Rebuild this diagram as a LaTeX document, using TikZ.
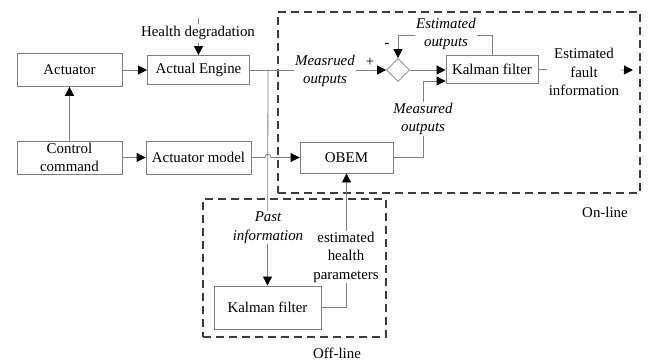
\documentclass[tikz,border=0pt]{standalone}
\usepackage{fontspec}
\setmainfont{Liberation Serif}
\usetikzlibrary{arrows.meta,shapes.geometric}
\definecolor{linegray}{RGB}{128,128,128}
\definecolor{zonegray}{RGB}{60,60,60}
\begin{document}
\begin{tikzpicture}[x=1pt,y=-1pt,
  font=\fontsize{14.9}{18.5}\selectfont,
  box/.style={draw=linegray,line width=0.8pt,inner sep=0pt,align=center},
  wire/.style={draw=linegray,line width=0.8pt},
  arr/.style={wire,-{Triangle[length=9pt,width=9pt,color=black]}},
  lbl/.style={fill=white,inner sep=1pt,align=center},
  zone/.style={draw=zonegray,line width=1.2pt,dash pattern=on 8pt off 5pt,inner sep=0pt}]
\useasboundingbox (0,0) rectangle (657,361);

% on-line and off-line zones
\node[zone,minimum width=362pt,minimum height=181pt] (online) at (459,102.5) {};
\node[zone,minimum width=183pt,minimum height=138pt] (offline) at (294.5,268) {};
\node (onlbl) at (605,212) {On-line};
\node (offlbl) at (337,353) {Off-line};

% blocks
\node[box,minimum width=105pt,minimum height=33pt] (act) at (69.5,70) {Actuator};
\node[box,minimum width=102pt,minimum height=29pt] (eng) at (198.5,70) {Actual Engine};
\node[box,minimum width=105pt,minimum height=33pt] (cc) at (69.5,157.5) {Control\\command};
\node[box,minimum width=105pt,minimum height=33pt] (am) at (198.5,157.5) {Actuator model};
\node[box,minimum width=93pt,minimum height=31pt] (obem) at (346.5,157.5) {OBEM};
\node[box,minimum width=92pt,minimum height=28pt] (kf1) at (492,69.5) {Kalman filter};
\node[box,minimum width=107pt,minimum height=43pt] (kf2) at (267.5,307.5) {Kalman filter};
\node[draw=linegray,line width=0.8pt,diamond,aspect=1,inner sep=0pt,minimum size=23pt] (dia) at (398,70) {};

% health degradation input
\node (hd) at (198,33) {Health degradation};
\coordinate (hdtop) at (198,18);
\draw[wire] (hdtop) -- ++(0,6);
\draw[arr] (hd.south -| eng.north) -- (eng.north);

% connectors
\coordinate (j) at (268,70);
\coordinate (faultend) at (633,70);
\draw[arr] (act.east) -- (eng.west);
\draw[arr] (cc.north) -- (act.south);
\draw[arr] (cc.east) -- (am.west);
\draw[arr] (am.east) -- (265,157.5) .. controls (265,153) and (271,153) .. (271,157.5) -- (obem.west);
\draw[arr] (eng.east) -- (dia.west);
\draw[arr] (j) -- (kf2.north);
\draw[arr] (dia.east) -- (kf1.west |- dia.east);
\draw[arr] (kf1.north) -- ++(0,-20) -| (dia.north);
\draw[arr] (obem.east) -| (423,81) -- (kf1.west |- 0,81);
\draw[arr] (kf2.east) -| (obem.south);
\draw[arr] (kf1.east) -- (faultend);

% signal labels
\node[lbl] (mo1) at (325,71) {\itshape Measrued\\\itshape outputs};
\node (plus) at (370,62) {+};
\node (minus) at (387,45) {\bfseries -};
\node[lbl] (eo) at (446,34) {\itshape Estimated\\\itshape outputs};
\node[lbl] (mo2) at (423,119) {\itshape Measured\\\itshape outputs};
\node[lbl] (past) at (268,227.5) {\itshape Past\\\itshape information};
\node[lbl] (ehp) at (346,257) {estimated\\health\\parameters};
\node[lbl,inner xsep=2pt] (efi) at (584,72) {Estimated\\fault\\information};
\end{tikzpicture}
\end{document}
